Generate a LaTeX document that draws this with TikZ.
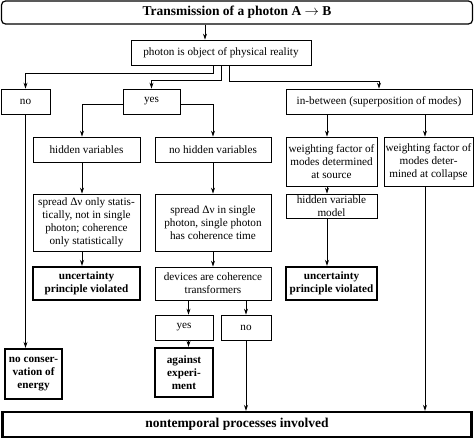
\documentclass[tikz,border=0pt]{standalone}
\usepackage{fontspec}
\setmainfont{Liberation Serif}
\usetikzlibrary{arrows.meta}
\begin{document}
\begin{tikzpicture}[x=1pt,y=-1pt,
  box/.style={draw,line width=0.8pt,inner sep=0pt,align=center,font=\fontsize{11.2}{13}\selectfont},
  bbox/.style={box,line width=2.4pt,font=\fontsize{11.2}{13}\selectfont\bfseries},
  arr/.style={line width=0.8pt,-{Stealth[length=6pt,width=4pt]}},
  ln/.style={line width=0.8pt}]
\useasboundingbox (0,0) rectangle (474,439);
\node[draw,line width=1.2pt,rounded corners=4pt,minimum width=471pt,minimum height=23pt,inner sep=0pt,font=\fontsize{13.5}{16}\selectfont\bfseries] (title) at (237,12.5) {Transmission of a photon A $\rightarrow$ B};
\node[box,minimum width=180pt,minimum height=25pt] (photon) at (221,52.5) {photon is object of physical reality};
\node[box,minimum width=49pt,minimum height=25pt] (no) at (25.5,101.5) {no};
\node[box,minimum width=57pt,minimum height=25pt] (yes) at (151.5,101.5) {yes};
\node[box,minimum width=186pt,minimum height=25pt] (inb) at (379,101.5) {in-between (superposition of modes)};
\node[box,minimum width=107pt,minimum height=25pt] (hid) at (86.5,149.5) {hidden variables};
\node[box,minimum width=116pt,minimum height=25pt] (nohid) at (213,149.5) {no hidden variables};
\node[box,minimum width=107pt,minimum height=57pt] (spr1) at (86.5,222.5) {spread Δν only statis-\\tically, not in single\\photon; coherence\\only statistically};
\node[box,minimum width=116pt,minimum height=57pt] (spr2) at (213,222.5) {spread Δν in single\\photon, single photon\\has coherence time};
\node[bbox,minimum width=107pt,minimum height=33pt] (unc1) at (86.5,283.5) {uncertainty\\principle violated};
\node[box,minimum width=116pt,minimum height=33pt] (dev) at (213,283.5) {devices are coherence\\transformers};
\node[box,minimum width=58pt,minimum height=25pt] (yes2) at (184,327.5) {yes};
\node[box,minimum width=50pt,minimum height=25pt] (no2) at (246,327.5) {no};
\node[bbox,minimum width=58pt,minimum height=49pt] (against) at (184,372.5) {against\\experi-\\ment};
\node[bbox,minimum width=57pt,minimum height=50pt] (nocons) at (33.5,374) {no conser-\\vation of\\energy};
\node[box,minimum width=91pt,minimum height=49pt] (w1) at (331.5,161.5) {weighting factor of\\modes determined\\at source};
\node[box,minimum width=89pt,minimum height=49pt] (w2) at (428.5,161.5) {weighting factor of\\modes deter-\\mined at collapse};
\node[box,minimum width=91pt,minimum height=24pt] (hvm) at (331.5,206) {hidden variable\\model};
\node[bbox,minimum width=91pt,minimum height=33pt] (unc2) at (331.5,283.5) {uncertainty\\principle violated};
\node[bbox,minimum width=469pt,minimum height=25pt,font=\fontsize{13.5}{16}\selectfont\bfseries] (nt) at (237,424.5) {nontemporal processes involved};
% connectors
\draw[arr] ([xshift=-16pt]photon.north |- title.south) -- ([xshift=-16pt]photon.north);
\draw[arr] ([xshift=-8pt]photon.south) -- ++(0,8) -| (no.north);
\draw[arr] (photon.south) -- ++(0,15) -| (yes.north);
\draw[arr] ([xshift=8pt]photon.south) -- ++(0,16) -| (inb.north);
\draw[arr] ([yshift=-3pt]yes.west) -| ([xshift=-4.5pt]hid.north);
\draw[arr] ([yshift=-3pt]yes.east) -| (nohid.north);
\draw[arr] ([xshift=-4.5pt]hid.south) -- ([xshift=-4.5pt]spr1.north);
\draw[arr] ([xshift=-4.5pt]spr1.south) -- ([xshift=-4.5pt]unc1.north);
\draw[arr] (nohid.south) -- (spr2.north);
\draw[arr] (spr2.south) -- (dev.north);
\draw[arr] ([xshift=4.5pt]dev.south -| yes2.north) -- ([xshift=4.5pt]yes2.north);
\draw[arr] (dev.south -| no2.north) -- (no2.north);
\draw[arr] ([xshift=4.5pt]yes2.south) -- ([xshift=4.5pt]against.north);
\draw[arr] (no2.south) -- (no2.south |- nt.north);
\draw[arr] (no.south) -- (no.south |- nocons.north);
\draw[arr] ([xshift=-4.5pt]w1.north |- inb.south) -- ([xshift=-4.5pt]w1.north);
\draw[arr] ([xshift=-3.5pt]w2.north |- inb.south) -- ([xshift=-3.5pt]w2.north);
\draw[arr] ([xshift=-4.5pt]w1.south) -- ([xshift=-4.5pt]hvm.north);
\draw[arr] ([xshift=-4.5pt]hvm.south) -- ([xshift=-4.5pt]unc2.north);
\draw[arr] ([xshift=-3.5pt]w2.south) -- ([xshift=-3.5pt]w2.south |- nt.north);
\end{tikzpicture}
\end{document}
